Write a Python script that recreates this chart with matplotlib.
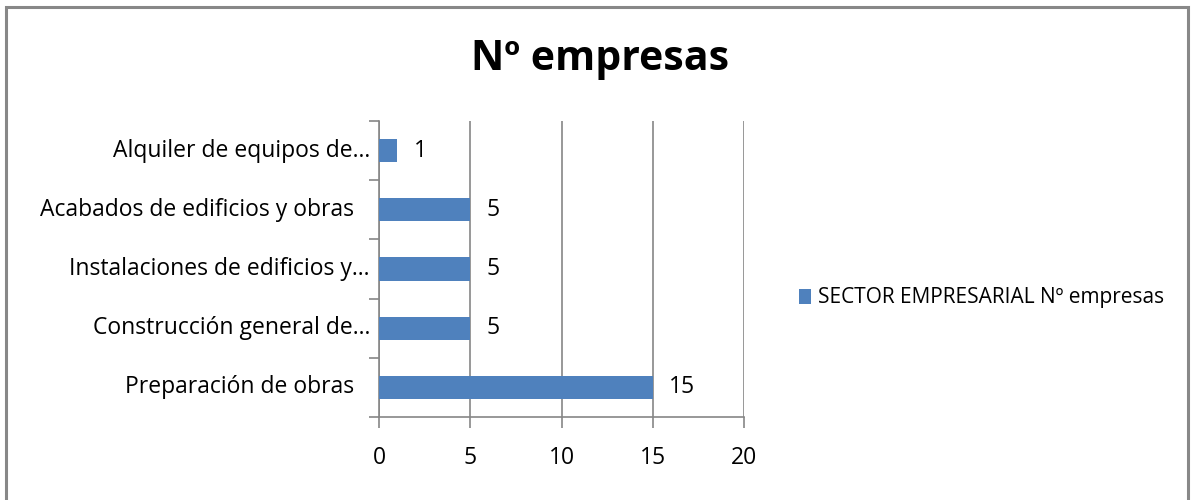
import matplotlib
matplotlib.use("Agg")
import matplotlib.pyplot as plt
from matplotlib.patches import Rectangle
from matplotlib.transforms import ScaledTranslation, blended_transform_factory

categories = [
    "Preparación de obras ",
    "Construcción general de…",
    "Instalaciones de edificios y…",
    "Acabados de edificios y obras ",
    "Alquiler de equipos de…",
]
values = [15, 5, 5, 5, 1]
xticks = [0, 5, 10, 15, 20]
series_name = "SECTOR EMPRESARIAL Nº empresas"
title = "Nº empresas"

bar_color = "#4F81BD"
grid_color = "#868686"
font = ["Open Sans", "DejaVu Sans"]
plt.rcParams["font.family"] = font
label_size = 16.5

fig = plt.figure(figsize=(11.91, 5.0), dpi=100)
fig.patches.append(Rectangle((6 / 1191, -0.01), 1182 / 1191, 1 - 7 / 500 + 0.01,
                             transform=fig.transFigure, fill=False,
                             edgecolor="#888888", linewidth=2.2))

ax = fig.add_axes([379 / 1191, 1 - 417 / 500, 365 / 1191, 296 / 500])
y = list(range(len(categories)))
bars = ax.barh(y, values, height=0.39, color=bar_color, label=series_name, zorder=3)

ax.set_xlim(0, 20)
ax.set_ylim(-0.5, len(categories) - 0.5)
ax.set_xticks(xticks)
ax.set_xticklabels([str(t) for t in xticks], fontsize=label_size)
ax.set_yticks([])
ax.set_yticks([i - 0.5 for i in range(len(categories) + 1)], minor=True)
ax.yaxis.set_tick_params(which="minor", length=7, color=grid_color, width=1.2)
ax.xaxis.set_tick_params(length=8, color=grid_color, width=1.2, pad=13)
ax.grid(axis="x", color=grid_color, linewidth=1.2, zorder=0)

# category labels, right-aligned left of the axis; a trailing space keeps its width
ytrans = blended_transform_factory(ax.transAxes, ax.transData)
space_w = 11.5 / 72  # inches
for yi, cat in zip(y, categories):
    shift = 6.5 / 72 + (space_w if cat.endswith(" ") else 0)
    ax.text(0, yi, cat.rstrip(), ha="right", va="center", fontsize=label_size,
            transform=ytrans + ScaledTranslation(-shift, 0, fig.dpi_scale_trans))

for side in ("top", "right"):
    ax.spines[side].set_visible(False)
for side in ("left", "bottom"):
    ax.spines[side].set_color(grid_color)
    ax.spines[side].set_linewidth(1.2)

for b, v in zip(bars, values):
    ax.annotate(str(v), (v, b.get_y() + b.get_height() / 2), xytext=(12, 0),
                textcoords="offset points", va="center", ha="left", fontsize=label_size)

fig.text(600 / 1191, 1 - 60 / 500, title, ha="center", va="center",
         fontsize=29.5, fontweight="bold")

leg = fig.legend(handles=[bars], labels=[series_name], loc="center left",
                 bbox_to_anchor=(799 / 1191, 1 - 298 / 500), frameon=False,
                 fontsize=15, handlelength=0.6, handleheight=0.7,
                 handletextpad=0.3, borderaxespad=0, borderpad=0)

fig.savefig("out.png", dpi=100)
